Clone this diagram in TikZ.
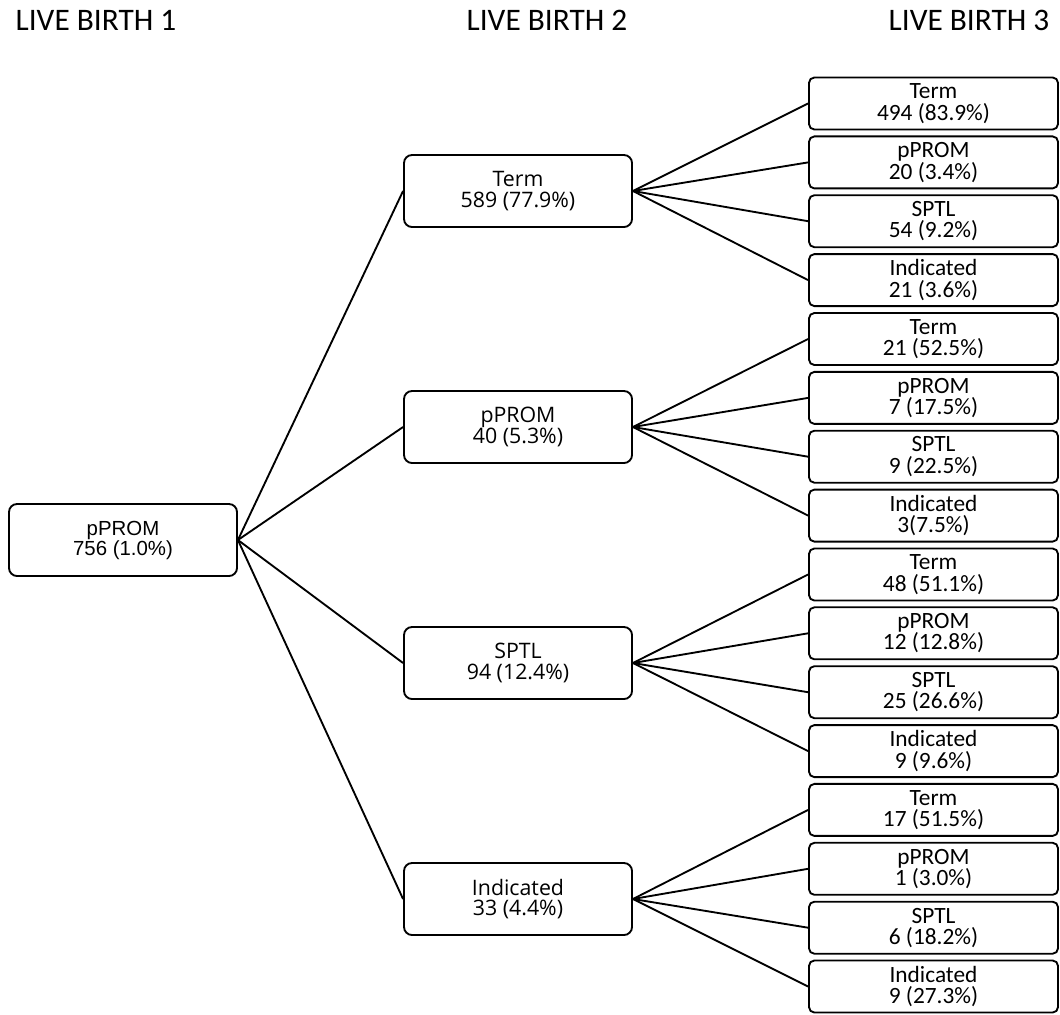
\documentclass[tikz,border=0pt]{standalone}
\usepackage{fontspec}
\setmainfont{Carlito}
\newfontfamily\arialf{Liberation Sans}
\newfontfamily\segoef{Open Sans}
\begin{document}
\begin{tikzpicture}[x=0.75pt,y=-0.75pt,
 box/.style={draw=black,line width=1.4pt,fill=white,align=center,inner sep=0pt},
 rootbox/.style={box,rounded corners=6pt,minimum width=171pt,minimum height=54pt,font=\arialf\fontsize{15.3}{15}\selectfont},
 midbox/.style={box,rounded corners=6pt,minimum width=171pt,minimum height=54pt,font=\segoef\fontsize{16}{15.5}\selectfont},
 leafbox/.style={box,rounded corners=4pt,minimum width=186.75pt,minimum height=39pt,font=\fontsize{17.5}{16}\selectfont},
 title/.style={font=\fontsize{23.5}{28}\selectfont,inner sep=0pt},
 link/.style={line width=1.4pt}]
\useasboundingbox (0,0) rectangle (1060,1014);
% titles
\node[title] (t1) at (96,20) {LIVE BIRTH 1};
\node[title] (t2) at (547,20) {LIVE BIRTH 2};
\node[title] (t3) at (969,20) {LIVE BIRTH 3};
% root
\node[rootbox] (r) at (123,540) {pPROM\\756 (1.0\%)};
% middle
\node[midbox] (m1) at (518,191) {Term\\589 (77.9\%)};
\node[midbox] (m2) at (518,427) {pPROM\\40 (5.3\%)};
\node[midbox] (m3) at (518,663) {SPTL\\94 (12.4\%)};
\node[midbox] (m4) at (518,899) {Indicated\\33 (4.4\%)};
% leaves
\node[leafbox] (c11) at (933.5,103.5) {Term\\494 (83.9\%)};
\node[leafbox] (c12) at (933.5,162.4) {pPROM\\20 (3.4\%)};
\node[leafbox] (c13) at (933.5,221.2) {SPTL\\54 (9.2\%)};
\node[leafbox] (c14) at (933.5,280.1) {Indicated\\21 (3.6\%)};
\node[leafbox] (c21) at (933.5,339.0) {Term\\21 (52.5\%)};
\node[leafbox] (c22) at (933.5,397.9) {pPROM\\7 (17.5\%)};
\node[leafbox] (c23) at (933.5,456.7) {SPTL\\9 (22.5\%)};
\node[leafbox] (c24) at (933.5,515.6) {Indicated\\3(7.5\%)};
\node[leafbox] (c31) at (933.5,574.5) {Term\\48 (51.1\%)};
\node[leafbox] (c32) at (933.5,633.3) {pPROM\\12 (12.8\%)};
\node[leafbox] (c33) at (933.5,692.2) {SPTL\\25 (26.6\%)};
\node[leafbox] (c34) at (933.5,751.1) {Indicated\\9 (9.6\%)};
\node[leafbox] (c41) at (933.5,809.9) {Term\\17 (51.5\%)};
\node[leafbox] (c42) at (933.5,868.8) {pPROM\\1 (3.0\%)};
\node[leafbox] (c43) at (933.5,927.7) {SPTL\\6 (18.2\%)};
\node[leafbox] (c44) at (933.5,986.5) {Indicated\\9 (27.3\%)};
% connectors
\foreach \m in {1,2,3,4}{
  \draw[link] (r.east) -- (m\m.west);
  \foreach \c in {1,2,3,4}{
    \draw[link] (m\m.east) -- (c\m\c.west);
  }
}
\end{tikzpicture}
\end{document}
